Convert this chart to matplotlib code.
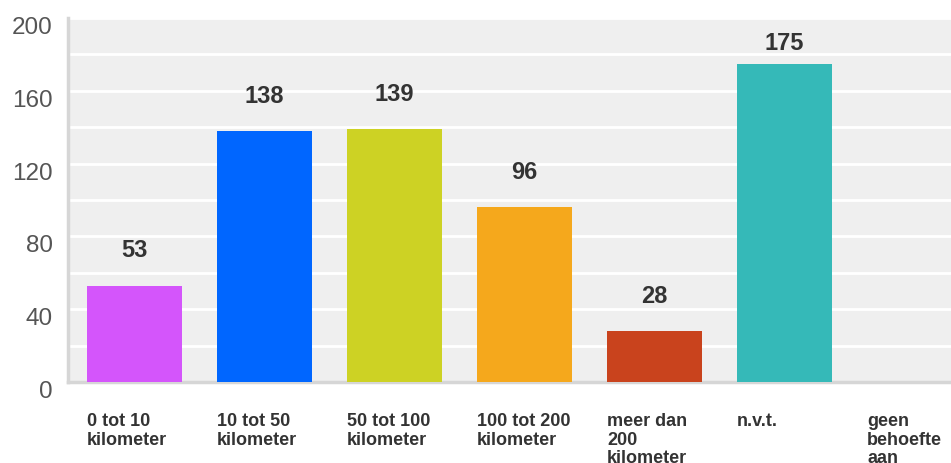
import matplotlib
matplotlib.use("Agg")
import matplotlib.pyplot as plt
import matplotlib.transforms as mtransforms

categories = ["0 tot 10\nkilometer", "10 tot 50\nkilometer", "50 tot 100\nkilometer",
              "100 tot 200\nkilometer", "meer dan\n200\nkilometer", "n.v.t.",
              "geen\nbehoefte\naan"]
counts = [53, 138, 139, 96, 28, 175, 0]
colors = ["#d455fb", "#0066ff", "#cdd224", "#f5a81c", "#c9431d", "#35b9b8", "#999999"]
y_labels = [0, 40, 80, 120, 160, 200]

plt.rcParams["font.family"] = ["Liberation Sans", "DejaVu Sans"]

fig = plt.figure(figsize=(9.51, 4.63), dpi=100)
ax = fig.add_axes([68 / 951, 81 / 463, 883 / 951, 364 / 463])
ax.set_facecolor("#efefef")

x = list(range(len(counts)))
bar_w = 0.73
ax.bar(x, counts, width=bar_w, color=colors, zorder=3)

ax.set_xlim(-0.51, 6.28)
ax.set_ylim(0, 200)

# white grid every 20
ax.set_yticks(range(0, 201, 20))
ax.yaxis.grid(True, color="white", linewidth=2, zorder=1)
ax.set_axisbelow(True)
ax.tick_params(length=0, labelleft=False, labelbottom=False)
ax.set_xticks([])

for s in ["top", "right"]:
    ax.spines[s].set_visible(False)
for s in ["left", "bottom"]:
    ax.spines[s].set_color("#d6d6d6")
    ax.spines[s].set_linewidth(2.5)

# y labels sit a little below their grid line
shift = mtransforms.ScaledTranslation(0, -10 / 100, fig.dpi_scale_trans)
ytrans = ax.get_yaxis_transform() + shift
for v in y_labels:
    ax.text(-0.017, v, str(v), transform=ytrans, ha="right", va="center",
            fontsize=17.5, color="#555555", clip_on=False)

# category labels, left aligned with each bar
down = mtransforms.ScaledTranslation(0, -31 / 100, fig.dpi_scale_trans)
xtrans = ax.get_xaxis_transform() + down
for xi, lab in zip(x, categories):
    ax.text(xi - bar_w / 2, 0, lab, transform=xtrans, ha="left", va="top",
            fontsize=13, fontweight="bold", color="#333333", linespacing=1.12,
            clip_on=False)

# value labels above bars
for xi, v in zip(x, counts):
    if v == 0:
        continue
    ax.text(xi, min(v + 19, 186), str(v), ha="center", va="center",
            fontsize=17, fontweight="bold", color="#333333", zorder=4)

fig.savefig("out.png", dpi=100)
